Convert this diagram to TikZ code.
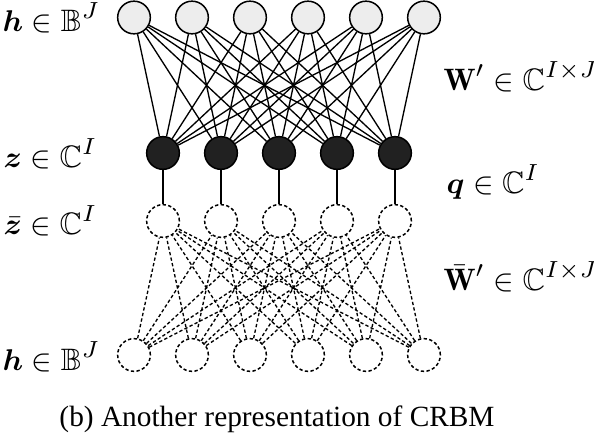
\documentclass[tikz,border=0pt]{standalone}
\usepackage{amsmath,amssymb,bm}
\usepackage{fontspec}
\newfontfamily\capfont{Liberation Serif}
\begin{document}
\begin{tikzpicture}[x=0.3pt,y=-0.3pt,
  neuron/.style={circle,draw=black,line width=0.45pt,minimum size=9.8pt,inner sep=0pt},
  hid/.style={neuron,fill=gray!14},
  blk/.style={neuron,fill=black!87},
  dnode/.style={neuron,dash pattern=on 1pt off 0.7pt},
  wire/.style={line width=0.4pt},
  dwire/.style={line width=0.4pt,dash pattern=on 1pt off 0.7pt},
  lab/.style={anchor=west,inner sep=0pt,font=\fontsize{9.3}{11}\selectfont}]
\useasboundingbox (0,0) rectangle (594,446);
\foreach \i in {1,...,6} {
  \node[hid] (t\i) at ({134+58*(\i-1)},17.5) {};
  \node[dnode] (b\i) at ({134+58*(\i-1)},355) {};
}
\foreach \i in {1,...,5} {
  \node[blk] (m\i) at ({163+58*(\i-1)},153) {};
  \node[dnode] (d\i) at ({163+58*(\i-1)},221) {};
}
\foreach \i in {1,...,6} \foreach \j in {1,...,5} {
  \draw[wire] (t\i) -- (m\j);
  \draw[dwire] (b\i) -- (d\j);
}
\foreach \j in {1,...,5} \draw[wire] (m\j) -- (d\j);
\node[lab] (l1) at (2,18) {$\boldsymbol{h}\in\mathbb{B}^J$};
\node[lab] (l2) at (3,154) {$\boldsymbol{z}\in\mathbb{C}^I$};
\node[lab] (l3) at (3,221) {$\bar{\boldsymbol{z}}\in\mathbb{C}^I$};
\node[lab] (l4) at (2,357) {$\boldsymbol{h}\in\mathbb{B}^J$};
\node[lab] (r1) at (443,77) {$\mathbf{W}'\in\mathbb{C}^{I\times J}$};
\node[lab] (r2) at (446,182) {$\boldsymbol{q}\in\mathbb{C}^I$};
\node[lab] (r3) at (443,277) {$\bar{\mathbf{W}}'\in\mathbb{C}^{I\times J}$};
\node[inner sep=0pt,font=\capfont\fontsize{8.8}{11}\selectfont] (cap) at (277,419) {(b) Another representation of CRBM};
\end{tikzpicture}
\end{document}
